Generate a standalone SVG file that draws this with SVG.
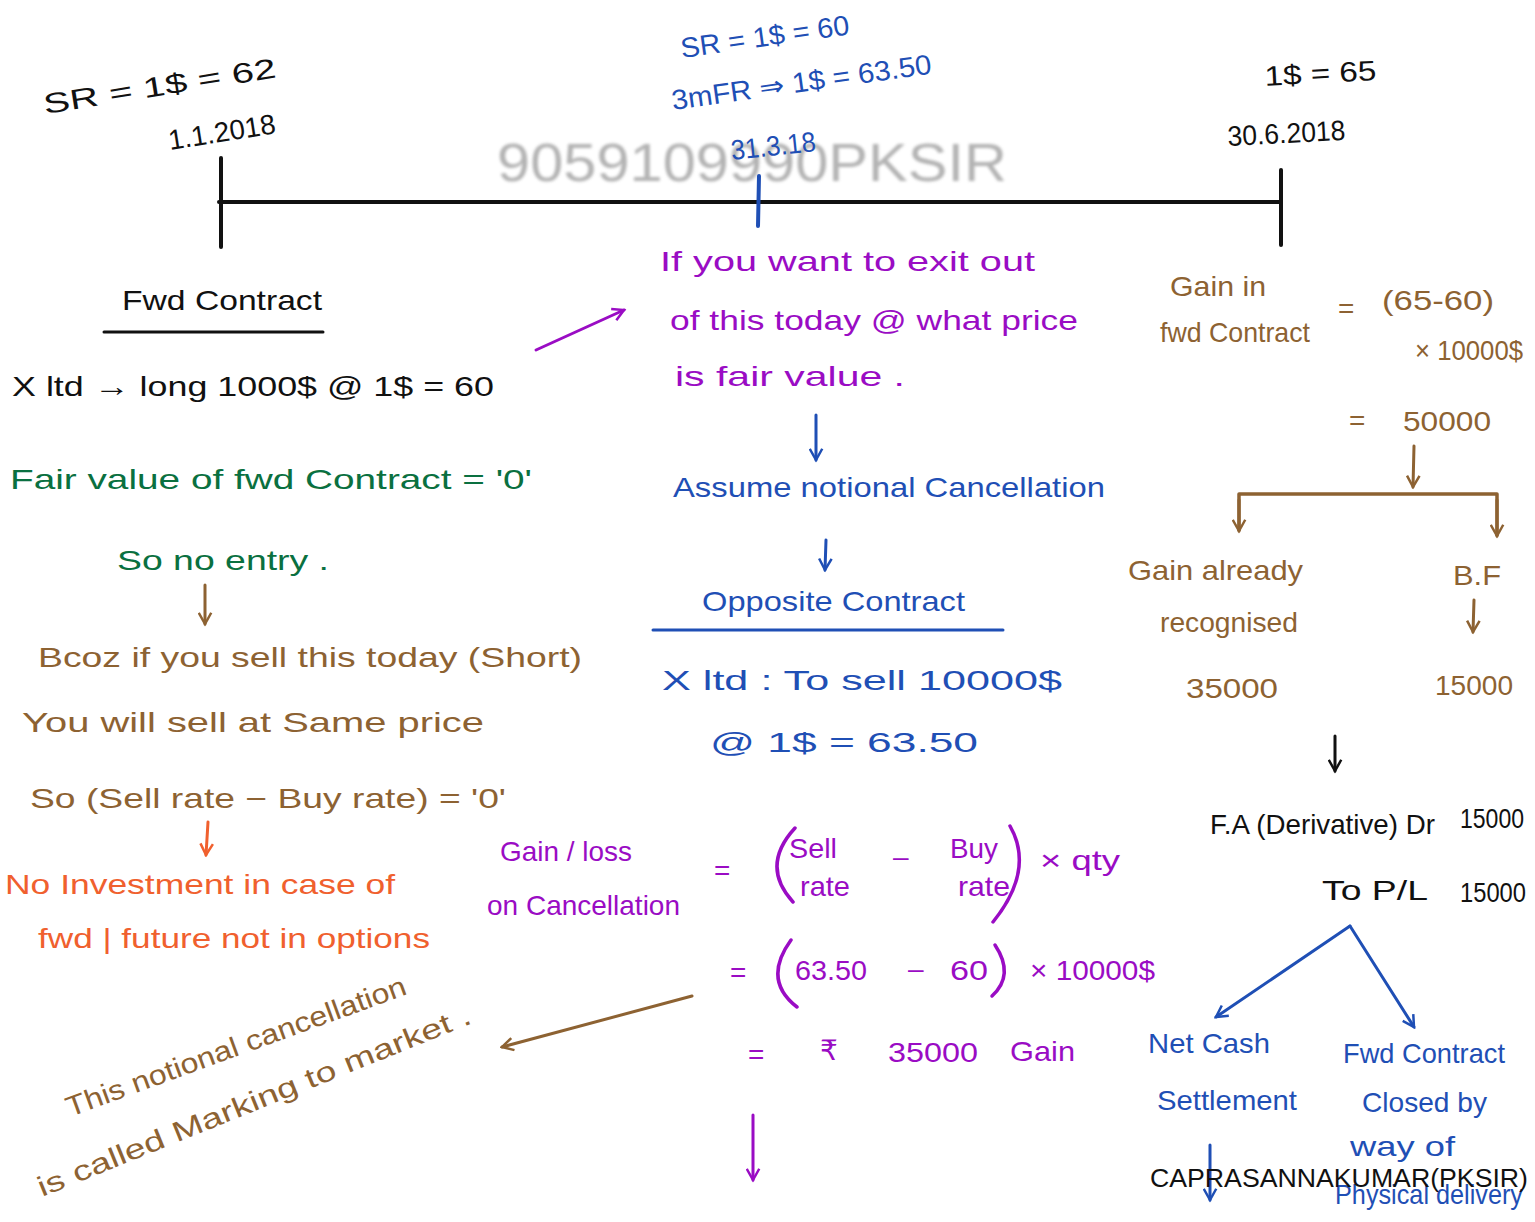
<svg xmlns="http://www.w3.org/2000/svg" width="1535" height="1222" viewBox="0 0 1535 1222">
  <style>
    text { font-family: "Liberation Sans", "DejaVu Sans", sans-serif; font-size: 28px; }
    .k { fill: #111111; }
    .b { fill: #1f4fb5; }
    .p { fill: #9a0cc4; }
    .g { fill: #0a7040; }
    .n { fill: #8d6232; }
    .o { fill: #f0602e; }
    .ln { fill: none; stroke-linecap: round; stroke-linejoin: round; }
    .wm { font-size: 54px; fill: #9a9a9a; opacity: 0.75; }
    .sig { font-size: 25px; fill: #111111; }
  </style>
  <defs>
    <filter id="soft" x="-5%" y="-20%" width="110%" height="140%">
      <feGaussianBlur stdDeviation="1.6"/>
    </filter>
    <marker id="hk" viewBox="0 0 12 12" refX="10" refY="6" markerWidth="5" markerHeight="5" orient="auto" markerUnits="strokeWidth">
      <path d="M1,1 L10,6 L1,11" fill="none" stroke="#111111" stroke-width="2"/>
    </marker>
    <marker id="hb" viewBox="0 0 12 12" refX="10" refY="6" markerWidth="5" markerHeight="5" orient="auto" markerUnits="strokeWidth">
      <path d="M1,1 L10,6 L1,11" fill="none" stroke="#1f4fb5" stroke-width="2"/>
    </marker>
    <marker id="hp" viewBox="0 0 12 12" refX="10" refY="6" markerWidth="5" markerHeight="5" orient="auto" markerUnits="strokeWidth">
      <path d="M1,1 L10,6 L1,11" fill="none" stroke="#9a0cc4" stroke-width="2"/>
    </marker>
    <marker id="hn" viewBox="0 0 12 12" refX="10" refY="6" markerWidth="5" markerHeight="5" orient="auto" markerUnits="strokeWidth">
      <path d="M1,1 L10,6 L1,11" fill="none" stroke="#8d6232" stroke-width="2"/>
    </marker>
    <marker id="ho" viewBox="0 0 12 12" refX="10" refY="6" markerWidth="5" markerHeight="5" orient="auto" markerUnits="strokeWidth">
      <path d="M1,1 L10,6 L1,11" fill="none" stroke="#f0602e" stroke-width="2"/>
    </marker>
  </defs>

  <rect width="1535" height="1222" fill="#ffffff"/>

  <!-- faint watermark behind the timeline -->
  <text class="wm" x="497" y="181" textLength="510" lengthAdjust="spacingAndGlyphs" filter="url(#soft)">9059109990PKSIR</text>

  <!-- timeline -->
  <g id="timeline">
    <line class="ln" x1="219" y1="202" x2="1280" y2="202" stroke="#111111" stroke-width="4"/>
    <line class="ln" x1="221" y1="158" x2="221" y2="247" stroke="#111111" stroke-width="4"/>
    <line class="ln" x1="1281" y1="170" x2="1281" y2="245" stroke="#111111" stroke-width="4"/>
    <line class="ln" x1="759" y1="176" x2="758" y2="226" stroke="#1f4fb5" stroke-width="4"/>
  </g>

  <!-- dates and rates on the timeline -->
  <g id="date-start">
    <text class="k" x="45" y="114" font-size="32" transform="rotate(-9 45 114)" textLength="235" lengthAdjust="spacingAndGlyphs">SR = 1$ = 62</text>
    <text class="k" x="170" y="150" font-size="26" transform="rotate(-9 170 150)" textLength="108" lengthAdjust="spacingAndGlyphs">1.1.2018</text>
  </g>
  <g id="date-mid">
    <text class="b" x="682" y="58" font-size="30" transform="rotate(-8 682 58)" textLength="170" lengthAdjust="spacingAndGlyphs">SR = 1$ = 60</text>
    <text class="b" x="673" y="110" font-size="28" transform="rotate(-8 673 110)" textLength="262" lengthAdjust="spacingAndGlyphs">3mFR ⇒ 1$ = 63.50</text>
    <text class="b" x="732" y="160" font-size="25" transform="rotate(-6 732 160)" textLength="85" lengthAdjust="spacingAndGlyphs">31.3.18</text>
  </g>
  <g id="date-end">
    <text class="k" x="1265" y="86" font-size="32" transform="rotate(-3 1265 86)" textLength="112" lengthAdjust="spacingAndGlyphs">1$ = 65</text>
    <text class="k" x="1228" y="146" font-size="24" transform="rotate(-3 1228 146)" textLength="118" lengthAdjust="spacingAndGlyphs">30.6.2018</text>
  </g>

  <!-- left column -->
  <g id="fwd-contract">
    <text class="k" x="122" y="310" font-size="32" textLength="200" lengthAdjust="spacingAndGlyphs">Fwd Contract</text>
    <line class="ln" x1="104" y1="332" x2="323" y2="332" stroke="#111111" stroke-width="3"/>
    <text class="k" x="12" y="396" font-size="32" textLength="482" lengthAdjust="spacingAndGlyphs">X ltd → long 1000$ @ 1$ = 60</text>
  </g>
  <g id="fair-value-zero">
    <text class="g" x="10" y="489" font-size="32" textLength="522" lengthAdjust="spacingAndGlyphs">Fair value of fwd Contract = '0'</text>
    <text class="g" x="117" y="570" font-size="30" textLength="212" lengthAdjust="spacingAndGlyphs">So no entry .</text>
  </g>
  <g id="because">
    <text class="n" x="38" y="667" font-size="30" textLength="544" lengthAdjust="spacingAndGlyphs">Bcoz if you sell this today (Short)</text>
    <text class="n" x="22" y="732" font-size="30" textLength="462" lengthAdjust="spacingAndGlyphs">You will sell at Same price</text>
    <text class="n" x="30" y="808" font-size="30" textLength="476" lengthAdjust="spacingAndGlyphs">So (Sell rate − Buy rate) = '0'</text>
  </g>
  <g id="no-investment">
    <text class="o" x="5" y="894" font-size="30" textLength="390" lengthAdjust="spacingAndGlyphs">No Investment in case of</text>
    <text class="o" x="38" y="948" font-size="30" textLength="392" lengthAdjust="spacingAndGlyphs">fwd | future not in options</text>
  </g>
  <g id="mark-to-market">
    <text class="n" x="70" y="1117" font-size="30" transform="rotate(-20 70 1117)" textLength="360" lengthAdjust="spacingAndGlyphs">This notional cancellation</text>
    <text class="n" x="42" y="1197" font-size="30" transform="rotate(-22 42 1197)" textLength="465" lengthAdjust="spacingAndGlyphs">is called Marking to market .</text>
  </g>

  <!-- middle column -->
  <g id="exit-question">
    <text class="p" x="660" y="271" font-size="30" textLength="375" lengthAdjust="spacingAndGlyphs">If you want to exit out</text>
    <text class="p" x="670" y="330" font-size="30" textLength="408" lengthAdjust="spacingAndGlyphs">of this today @ what price</text>
    <text class="p" x="675" y="386" font-size="30" textLength="230" lengthAdjust="spacingAndGlyphs">is fair value .</text>
  </g>
  <g id="notional-cancellation">
    <text class="b" x="673" y="497" font-size="28" textLength="432" lengthAdjust="spacingAndGlyphs">Assume notional Cancellation</text>
  </g>
  <g id="opposite-contract">
    <text class="b" x="702" y="611" font-size="28" textLength="263" lengthAdjust="spacingAndGlyphs">Opposite Contract</text>
    <line class="ln" x1="653" y1="630" x2="1003" y2="630" stroke="#1f4fb5" stroke-width="3"/>
    <text class="b" x="662" y="690" font-size="30" textLength="400" lengthAdjust="spacingAndGlyphs">X ltd : To sell 10000$</text>
    <text class="b" x="710" y="752" font-size="30" textLength="268" lengthAdjust="spacingAndGlyphs">@ 1$ = 63.50</text>
  </g>
  <g id="gain-loss">
    <text class="p" x="500" y="861" font-size="30" textLength="132" lengthAdjust="spacingAndGlyphs">Gain / loss</text>
    <text class="p" x="487" y="915" font-size="28" textLength="193" lengthAdjust="spacingAndGlyphs">on Cancellation</text>
    <text class="p" x="714" y="880" font-size="28">=</text>
    <path class="ln" d="M795,828 Q760,866 793,902" stroke="#9a0cc4" stroke-width="3.5"/>
    <text class="p" x="789" y="858" font-size="28" textLength="48" lengthAdjust="spacingAndGlyphs">Sell</text>
    <text class="p" x="800" y="896" font-size="28" textLength="50" lengthAdjust="spacingAndGlyphs">rate</text>
    <text class="p" x="893" y="866" font-size="28">–</text>
    <text class="p" x="950" y="858" font-size="28" textLength="48" lengthAdjust="spacingAndGlyphs">Buy</text>
    <text class="p" x="958" y="896" font-size="28" textLength="52" lengthAdjust="spacingAndGlyphs">rate</text>
    <path class="ln" d="M1010,826 Q1035,870 993,922" stroke="#9a0cc4" stroke-width="3.5"/>
    <text class="p" x="1040" y="870" font-size="28" textLength="80" lengthAdjust="spacingAndGlyphs">× qty</text>
  </g>
  <g id="gain-calc">
    <text class="p" x="730" y="982" font-size="28">=</text>
    <path class="ln" d="M791,940 Q762,980 797,1007" stroke="#9a0cc4" stroke-width="3.5"/>
    <text class="p" x="795" y="980" font-size="28" textLength="72" lengthAdjust="spacingAndGlyphs">63.50</text>
    <text class="p" x="908" y="978" font-size="28">–</text>
    <text class="p" x="950" y="980" font-size="28" textLength="38" lengthAdjust="spacingAndGlyphs">60</text>
    <path class="ln" d="M995,945 Q1015,975 992,996" stroke="#9a0cc4" stroke-width="3.5"/>
    <text class="p" x="1030" y="980" font-size="28" textLength="125" lengthAdjust="spacingAndGlyphs">× 10000$</text>
    <text class="p" x="748" y="1064" font-size="28">=</text>
    <text class="p" x="820" y="1060" font-size="30">₹</text>
    <text class="p" x="888" y="1062" font-size="30" textLength="90" lengthAdjust="spacingAndGlyphs">35000</text>
    <text class="p" x="1010" y="1061" font-size="30" textLength="65" lengthAdjust="spacingAndGlyphs">Gain</text>
  </g>

  <!-- right column -->
  <g id="gain-in-fwd">
    <text class="n" x="1170" y="296" font-size="28" textLength="96" lengthAdjust="spacingAndGlyphs">Gain in</text>
    <text class="n" x="1160" y="342" font-size="28" textLength="150" lengthAdjust="spacingAndGlyphs">fwd Contract</text>
    <text class="n" x="1338" y="318" font-size="28">=</text>
    <text class="n" x="1382" y="310" font-size="38" textLength="112" lengthAdjust="spacingAndGlyphs">(65-60)</text>
    <text class="n" x="1415" y="360" font-size="28" textLength="108" lengthAdjust="spacingAndGlyphs">× 10000$</text>
    <text class="n" x="1349" y="430" font-size="28">=</text>
    <text class="n" x="1403" y="431" font-size="30" textLength="88" lengthAdjust="spacingAndGlyphs">50000</text>
  </g>
  <g id="gain-already">
    <text class="n" x="1128" y="580" font-size="30" textLength="175" lengthAdjust="spacingAndGlyphs">Gain already</text>
    <text class="n" x="1160" y="632" font-size="28" textLength="138" lengthAdjust="spacingAndGlyphs">recognised</text>
    <text class="n" x="1186" y="698" font-size="28" textLength="92" lengthAdjust="spacingAndGlyphs">35000</text>
  </g>
  <g id="bf">
    <text class="n" x="1453" y="585" font-size="28" textLength="48" lengthAdjust="spacingAndGlyphs">B.F</text>
    <text class="n" x="1435" y="695" font-size="28" textLength="78" lengthAdjust="spacingAndGlyphs">15000</text>
  </g>
  <g id="journal-entry">
    <text class="k" x="1210" y="834" font-size="30" textLength="225" lengthAdjust="spacingAndGlyphs">F.A (Derivative) Dr</text>
    <text class="k" x="1460" y="828" font-size="26" textLength="64" lengthAdjust="spacingAndGlyphs">15000</text>
    <text class="k" x="1322" y="900" font-size="30" textLength="106" lengthAdjust="spacingAndGlyphs">To P/L</text>
    <text class="k" x="1460" y="902" font-size="26" textLength="66" lengthAdjust="spacingAndGlyphs">15000</text>
  </g>
  <g id="net-cash">
    <text class="b" x="1148" y="1053" font-size="28" textLength="122" lengthAdjust="spacingAndGlyphs">Net Cash</text>
    <text class="b" x="1157" y="1110" font-size="28" textLength="140" lengthAdjust="spacingAndGlyphs">Settlement</text>
  </g>
  <g id="physical-delivery">
    <text class="b" x="1343" y="1063" font-size="28" textLength="162" lengthAdjust="spacingAndGlyphs">Fwd Contract</text>
    <text class="b" x="1362" y="1112" font-size="28" textLength="125" lengthAdjust="spacingAndGlyphs">Closed by</text>
    <text class="b" x="1350" y="1156" font-size="28" textLength="105" lengthAdjust="spacingAndGlyphs">way of</text>
    <text class="b" x="1335" y="1204" font-size="26" textLength="188" lengthAdjust="spacingAndGlyphs">Physical delivery</text>
  </g>

  <!-- connectors -->
  <g id="connectors" class="ln">
    <line x1="205" y1="585" x2="205" y2="624" stroke="#8d6232" stroke-width="3" marker-end="url(#hn)"/>
    <line x1="208" y1="822" x2="206" y2="855" stroke="#f0602e" stroke-width="3" marker-end="url(#ho)"/>
    <line x1="536" y1="350" x2="624" y2="310" stroke="#9a0cc4" stroke-width="3" marker-end="url(#hp)"/>
    <line x1="816" y1="415" x2="816" y2="460" stroke="#1f4fb5" stroke-width="3" marker-end="url(#hb)"/>
    <line x1="826" y1="540" x2="825" y2="570" stroke="#1f4fb5" stroke-width="3" marker-end="url(#hb)"/>
    <line x1="692" y1="996" x2="502" y2="1047" stroke="#8d6232" stroke-width="3" marker-end="url(#hn)"/>
    <line x1="753" y1="1115" x2="753" y2="1180" stroke="#9a0cc4" stroke-width="3" marker-end="url(#hp)"/>
    <line x1="1414" y1="446" x2="1413" y2="487" stroke="#8d6232" stroke-width="3" marker-end="url(#hn)"/>
    <path d="M1239,530 L1239,494 L1497,494 L1497,535" stroke="#8d6232" stroke-width="3.5"/>
    <line x1="1239" y1="500" x2="1239" y2="531" stroke="#8d6232" stroke-width="3" marker-end="url(#hn)"/>
    <line x1="1497" y1="500" x2="1497" y2="536" stroke="#8d6232" stroke-width="3" marker-end="url(#hn)"/>
    <line x1="1474" y1="600" x2="1473" y2="632" stroke="#8d6232" stroke-width="3" marker-end="url(#hn)"/>
    <line x1="1335" y1="736" x2="1335" y2="771" stroke="#111111" stroke-width="3" marker-end="url(#hk)"/>
    <line x1="1350" y1="926" x2="1216" y2="1017" stroke="#1f4fb5" stroke-width="3" marker-end="url(#hb)"/>
    <line x1="1350" y1="926" x2="1414" y2="1027" stroke="#1f4fb5" stroke-width="3" marker-end="url(#hb)"/>
    <line x1="1210" y1="1145" x2="1210" y2="1200" stroke="#1f4fb5" stroke-width="3" marker-end="url(#hb)"/>
  </g>

  <!-- author credit -->
  <text class="sig" x="1150" y="1187" textLength="378" lengthAdjust="spacingAndGlyphs">CAPRASANNAKUMAR(PKSIR)</text>
</svg>
